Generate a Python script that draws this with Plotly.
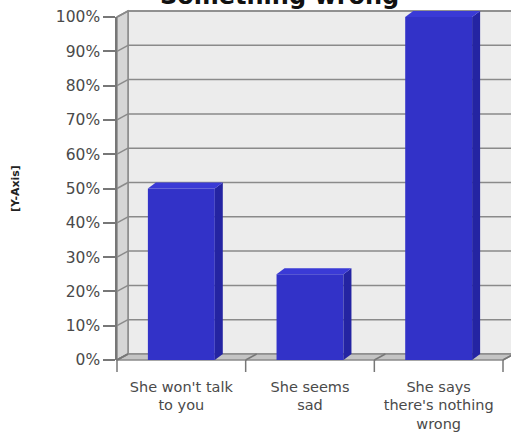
import plotly.graph_objects as go

categories = ["She won't talk<br>to you", "She seems<br>sad", "She says<br>there's nothing<br>wrong"]
values = [50, 25, 100]
y_ticks = list(range(0, 101, 10))
y_tick_labels = [f"{v}%" for v in y_ticks]
title_text = "Something wrong"
y_title = "[Y-Axis]"

W, H = 511, 436
ML, MR, MT, MB = 117, 8, 17, 76
PW, PH = W - ML - MR, H - MT - MB
XMIN, XMAX = -0.5, len(categories) - 0.5
BAR_W = 0.52

WALL_DX, WALL_DY = 11, 6     # depth of the walls, px
BAR_DX, BAR_DY = 8, 6        # depth of the bars, px

def px(x):
    return (x - XMIN) / (XMAX - XMIN)

def py(v):
    return v / 100.0

ddx_w, ddy_w = WALL_DX / PW, WALL_DY / PH
ddx_b, ddy_b = BAR_DX / PW, BAR_DY / PH

def poly(pts):
    return "M " + " L ".join(f"{a:.5f},{b:.5f}" for a, b in pts) + " Z"

shapes = []
grid_col = "#8a8a8a"
# back wall
shapes.append(dict(type="rect", xref="paper", yref="paper", layer="below",
                   x0=px(XMIN) + ddx_w, x1=px(XMAX) + ddx_w,
                   y0=py(0) + ddy_w, y1=py(100) + ddy_w,
                   fillcolor="#ececec", line=dict(color=grid_col, width=1.5)))
# left wall
shapes.append(dict(type="path", xref="paper", yref="paper", layer="below",
                   path=poly([(px(XMIN), py(0)), (px(XMIN), py(100)),
                              (px(XMIN) + ddx_w, py(100) + ddy_w),
                              (px(XMIN) + ddx_w, py(0) + ddy_w)]),
                   fillcolor="#d6d6d6", line=dict(color=grid_col, width=1.5)))
# floor
shapes.append(dict(type="path", xref="paper", yref="paper", layer="below",
                   path=poly([(px(XMIN), py(0)), (px(XMAX), py(0)),
                              (px(XMAX) + ddx_w, py(0) + ddy_w),
                              (px(XMIN) + ddx_w, py(0) + ddy_w)]),
                   fillcolor="#c4c4c4", line=dict(color=grid_col, width=1.5)))
# grid lines on back wall + diagonals on left wall
for v in y_ticks[1:]:
    shapes.append(dict(type="line", xref="paper", yref="paper", layer="below",
                       x0=px(XMIN) + ddx_w, x1=px(XMAX) + ddx_w,
                       y0=py(v) + ddy_w, y1=py(v) + ddy_w,
                       line=dict(color=grid_col, width=1.5)))
for v in y_ticks:
    shapes.append(dict(type="line", xref="paper", yref="paper", layer="below",
                       x0=px(XMIN), x1=px(XMIN) + ddx_w,
                       y0=py(v), y1=py(v) + ddy_w,
                       line=dict(color=grid_col, width=1.5)))
# category boundary ticks on the floor / below axis
for i in range(len(categories) + 1):
    b = XMIN + i
    shapes.append(dict(type="line", xref="paper", yref="paper", layer="above",
                       x0=px(b), x1=px(b), y0=py(0), y1=py(0) - 12 / PH,
                       line=dict(color="#777", width=1.5)))
    shapes.append(dict(type="line", xref="paper", yref="paper", layer="below",
                       x0=px(b), x1=px(b) + ddx_w, y0=py(0), y1=py(0) + ddy_w,
                       line=dict(color="#777", width=1.5)))
# 3D bar side and top faces
for i, v in enumerate(values):
    xr = i + BAR_W / 2
    xl = i - BAR_W / 2
    shapes.append(dict(type="path", xref="paper", yref="paper", layer="above",
                       path=poly([(px(xr), py(0)), (px(xr), py(v)),
                                  (px(xr) + ddx_b, py(v) + ddy_b),
                                  (px(xr) + ddx_b, py(0) + ddy_b)]),
                       fillcolor="#2424a2", line=dict(width=0)))
    shapes.append(dict(type="path", xref="paper", yref="paper", layer="above",
                       path=poly([(px(xl), py(v)), (px(xr), py(v)),
                                  (px(xr) + ddx_b, py(v) + ddy_b),
                                  (px(xl) + ddx_b, py(v) + ddy_b)]),
                       fillcolor="#3a3ad6", line=dict(width=0)))

fig = go.Figure(go.Bar(
    x=list(range(len(categories))), y=values, width=BAR_W,
    marker=dict(color="#3232c8", line=dict(width=0)),
    hoverinfo="skip", cliponaxis=False,
))

fig.update_layout(
    width=W, height=H,
    margin=dict(l=ML, r=MR, t=MT, b=MB, autoexpand=False),
    paper_bgcolor="white", plot_bgcolor="rgba(0,0,0,0)",
    showlegend=False,
    shapes=shapes,
    font=dict(family="DejaVu Sans", color="#4a4a4a"),
    xaxis=dict(range=[XMIN, XMAX], tickvals=list(range(len(categories))),
               ticktext=categories, ticks="", showgrid=False, zeroline=False,
               showline=False, tickfont=dict(size=14.5, color="#4a4a4a"),
               ticklabelstandoff=16, fixedrange=True, automargin=False),
    yaxis=dict(range=[0, 100], tickvals=y_ticks, ticktext=y_tick_labels,
               ticks="outside", ticklen=12, tickwidth=1.5, tickcolor="#777",
               showline=True, linecolor="#777", linewidth=1.5,
               showgrid=False, zeroline=False, automargin=False,
               tickfont=dict(size=15.5, color="#4a4a4a"), fixedrange=True),
    annotations=[
        dict(text=f"<b>{title_text}</b>", xref="paper", yref="paper",
             x=(279.5 - ML) / PW, y=(MT + PH - (-4)) / PH, xanchor="center", yanchor="middle",
             showarrow=False, font=dict(family="DejaVu Sans", size=24, color="#111")),
        dict(text=f"<b>{y_title}</b>", xref="paper", yref="paper",
             x=(15.5 - ML) / PW, y=0.5, xanchor="center", yanchor="middle",
             textangle=-90, showarrow=False,
             font=dict(family="DejaVu Sans", size=11, color="#222")),
    ],
)

fig.write_html("out.html", config={"displayModeBar": False},
               post_script="document.body.style.margin='0';document.body.style.overflow='hidden';")
